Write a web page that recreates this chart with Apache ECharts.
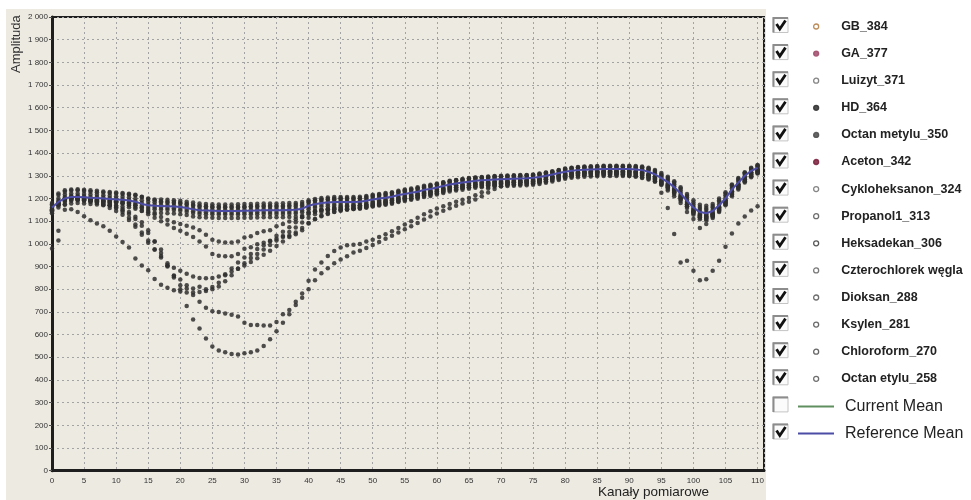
<!DOCTYPE html>
<html>
<head>
<meta charset="utf-8">
<script src="https://cdn.jsdelivr.net/npm/echarts@6/dist/echarts.min.js"></script>
<style>
html,body{margin:0;padding:0;background:#ffffff;}
#chart{width:971px;height:500px;}
</style>
</head>
<body>
<div id="chart"></div>
<script>
// Measurement channels (x axis)
const channels = [0,1,2,3,4,5,6,7,8,9,10,11,12,13,14,15,16,17,18,19,20,21,22,23,24,25,26,27,28,29,30,31,32,33,34,35,36,37,38,39,40,41,42,43,44,45,46,47,48,49,50,51,52,53,54,55,56,57,58,59,60,61,62,63,64,65,66,67,68,69,70,71,72,73,74,75,76,77,78,79,80,81,82,83,84,85,86,87,88,89,90,91,92,93,94,95,96,97,98,99,100,101,102,103,104,105,106,107,108,109,110];

// Reference mean amplitude per channel
const refMean = [
1160,1185,1200,1207,1207,1205,1203,1202,1200,1198,
1196,1194,1191,1186,1176,1170,1168,1167,1166,1165,
1162,1158,1152,1148,1147,1146,1145,1145,1145,1145,
1146,1146,1147,1148,1148,1148,1148,1149,1150,1155,
1168,1175,1180,1182,1184,1185,1185,1185,1186,1190,
1196,1200,1203,1208,1215,1220,1225,1230,1238,1242,
1248,1255,1262,1266,1270,1274,1278,1280,1282,1284,
1285,1286,1287,1288,1289,1291,1295,1300,1306,1312,
1318,1322,1325,1327,1328,1329,1330,1330,1330,1330,
1330,1328,1325,1318,1306,1290,1272,1250,1222,1190,
1160,1140,1135,1145,1170,1200,1240,1270,1300,1322,1335];

// Amplitudes of the measured substances
const gb384 = [
1175,1215,1230,1235,1236,1233,1230,1228,1226,1224,
1222,1220,1218,1214,1208,1200,1196,1195,1194,1192,
1190,1186,1182,1178,1176,1175,1174,1174,1174,1175,
1176,1176,1177,1178,1178,1178,1179,1180,1180,1184,
1192,1198,1202,1204,1206,1206,1206,1207,1208,1211,
1216,1220,1224,1228,1234,1240,1244,1250,1256,1260,
1266,1272,1278,1282,1286,1290,1293,1295,1297,1299,
1300,1301,1302,1303,1304,1306,1310,1315,1320,1326,
1332,1336,1339,1341,1342,1343,1344,1344,1344,1344,
1344,1343,1341,1336,1326,1312,1296,1276,1250,1220,
1192,1172,1168,1176,1200,1228,1262,1290,1316,1336,1348];

const ga377 = [
1168,1200,1218,1222,1222,1220,1218,1216,1214,1212,
1210,1208,1205,1200,1192,1186,1183,1182,1181,1180,
1178,1174,1168,1164,1162,1161,1160,1160,1160,1160,
1161,1162,1163,1163,1163,1163,1163,1164,1165,1170,
1182,1189,1193,1195,1197,1198,1198,1198,1199,1202,
1208,1212,1215,1220,1227,1232,1237,1242,1249,1254,
1260,1267,1273,1278,1282,1286,1289,1291,1293,1295,
1296,1297,1298,1299,1300,1302,1306,1311,1316,1322,
1328,1332,1335,1337,1338,1339,1340,1340,1340,1340,
1340,1338,1335,1329,1317,1302,1284,1263,1236,1204,
1174,1154,1150,1160,1186,1214,1252,1282,1310,1330,1343];

const luizyt371 = [
1160,1190,1206,1212,1212,1210,1207,1206,1204,1202,
1200,1197,1194,1189,1180,1174,1172,1171,1170,1169,
1166,1162,1156,1152,1151,1150,1149,1149,1149,1149,
1150,1150,1151,1152,1152,1152,1152,1153,1154,1159,
1171,1179,1184,1186,1188,1189,1189,1189,1190,1194,
1200,1204,1207,1212,1219,1224,1229,1234,1242,1246,
1252,1259,1266,1270,1274,1278,1282,1284,1286,1288,
1289,1290,1291,1292,1293,1295,1299,1304,1310,1316,
1322,1326,1329,1331,1332,1333,1334,1334,1334,1334,
1334,1332,1329,1322,1310,1294,1276,1254,1226,1194,
1164,1144,1139,1149,1174,1204,1244,1274,1304,1326,1339];

const hd364 = [
1150,1178,1194,1200,1200,1198,1195,1194,1192,1190,
1188,1186,1183,1178,1168,1162,1160,1159,1158,1157,
1154,1150,1144,1140,1139,1138,1137,1137,1137,1137,
1138,1138,1139,1140,1140,1140,1140,1141,1142,1147,
1160,1167,1172,1174,1176,1177,1177,1177,1178,1182,
1188,1192,1195,1200,1207,1212,1217,1222,1230,1234,
1240,1247,1254,1258,1262,1266,1270,1272,1274,1276,
1277,1278,1279,1280,1281,1283,1287,1292,1298,1304,
1310,1314,1317,1319,1320,1321,1322,1322,1322,1322,
1322,1318,1312,1302,1286,1262,1235,1210,1180,1140,
1110,1070,1087,1128,1160,1192,1230,1262,1292,1316,1330];

const octanMetylu350 = [
1150,1175,1195,1200,1200,1198,1196,1195,1193,1191,
1188,1184,1178,1170,1158,1145,1130,1118,1105,1095,
1088,1080,1072,1060,1040,1018,1010,1006,1006,1010,
1028,1034,1048,1056,1060,1078,1088,1098,1108,1118,
1130,1140,1148,1152,1158,1162,1165,1168,1170,1174,
1180,1186,1190,1196,1203,1208,1214,1220,1228,1232,
1238,1245,1252,1256,1260,1264,1268,1270,1272,1274,
1275,1276,1277,1278,1279,1281,1285,1290,1296,1302,
1308,1312,1315,1317,1318,1319,1320,1320,1320,1320,
1320,1318,1315,1308,1296,1280,1262,1240,1212,1180,
1150,1130,1125,1135,1160,1190,1230,1260,1290,1312,1325];

const aceton342 = [
1145,1170,1190,1196,1197,1195,1192,1190,1188,1186,
1183,1178,1170,1160,1146,1130,1115,1100,1085,1070,
1058,1045,1030,1010,988,955,948,945,945,955,
978,985,998,1005,1012,1022,1030,1036,1042,1060,
1092,1110,1125,1135,1142,1148,1152,1156,1160,1165,
1172,1178,1183,1189,1196,1202,1208,1214,1222,1227,
1233,1240,1247,1251,1255,1259,1263,1265,1267,1269,
1270,1271,1272,1273,1274,1276,1280,1285,1291,1297,
1303,1307,1310,1312,1313,1314,1315,1315,1315,1315,
1315,1313,1310,1303,1291,1275,1257,1235,1207,1175,
1145,1125,1120,1130,1155,1185,1225,1255,1285,1308,1322];

const cykloheksanon324 = [
1142,1170,1186,1194,1195,1192,1189,1187,1185,1183,
1181,1179,1176,1170,1160,1154,1152,1151,1150,1149,
1146,1142,1136,1132,1131,1130,1129,1129,1129,1129,
1130,1130,1131,1132,1132,1132,1132,1133,1134,1139,
1152,1159,1164,1166,1168,1169,1169,1169,1170,1174,
1180,1184,1187,1192,1199,1204,1209,1214,1222,1226,
1232,1239,1246,1250,1254,1258,1262,1264,1266,1268,
1269,1270,1271,1272,1273,1275,1279,1284,1290,1296,
1302,1306,1309,1311,1312,1313,1314,1314,1314,1314,
1314,1312,1309,1302,1290,1274,1256,1234,1206,1174,
1144,1124,1119,1129,1154,1184,1224,1254,1284,1306,1320];

const propanol313 = [
1150,1180,1198,1204,1204,1200,1196,1192,1186,1178,
1168,1155,1140,1120,1095,1060,1010,960,905,858,
818,803,775,745,718,703,700,693,688,680,
652,642,642,640,640,656,690,708,745,781,
837,887,918,946,968,984,994,996,999,1010,
1018,1030,1042,1056,1070,1085,1100,1115,1130,1144,
1156,1166,1176,1186,1194,1202,1214,1228,1244,1258,
1266,1272,1275,1277,1279,1281,1285,1290,1296,1302,
1308,1312,1315,1317,1318,1319,1320,1320,1320,1320,
1320,1318,1314,1307,1296,1282,1265,1244,1216,1186,
1156,1136,1130,1140,1164,1194,1232,1262,1292,1314,1328];

const heksadekan306 = [
980,1058,1150,1152,1140,1122,1104,1090,1078,1058,
1032,1008,984,935,905,884,845,820,806,796,
790,786,786,788,792,800,812,835,862,890,
915,938,955,975,995,1015,1035,1052,1072,1094,
1115,1130,1140,1146,1150,1153,1155,1157,1158,1162,
1168,1172,1176,1181,1188,1194,1199,1204,1212,1217,
1223,1230,1237,1241,1245,1249,1253,1255,1257,1259,
1260,1261,1262,1263,1264,1266,1270,1275,1281,1287,
1293,1297,1300,1302,1303,1304,1305,1305,1305,1305,
1305,1303,1300,1293,1281,1266,1248,1226,1198,1166,
1136,1116,1111,1121,1146,1176,1216,1246,1276,1299,1314];

const czterochlorek = [
1145,1015,1175,1190,1192,1190,1186,1182,1176,1170,
1160,1148,1132,1110,1080,1048,1010,975,905,852,
843,818,803,811,800,810,829,862,891,918,
940,955,977,994,1014,1036,1053,1073,1095,1117,
1139,1146,1150,1155,1158,1160,1162,1164,1166,1170,
1176,1180,1184,1189,1196,1201,1206,1211,1219,1223,
1229,1236,1243,1247,1251,1255,1259,1261,1263,1265,
1266,1267,1268,1269,1270,1272,1276,1281,1287,1293,
1299,1303,1306,1308,1309,1310,1311,1311,1311,1311,
1311,1309,1306,1299,1287,1271,1253,1231,1203,1171,
1141,1121,1116,1126,1151,1181,1221,1251,1281,1303,1317];

const dioksan288 = [
1148,1178,1196,1200,1198,1194,1188,1180,1170,1158,
1145,1128,1105,1075,1040,1005,975,946,915,895,
881,868,856,850,848,850,856,866,878,890,
905,920,936,952,970,990,1010,1030,1050,1070,
1090,1108,1122,1132,1140,1146,1150,1154,1158,1162,
1168,1173,1177,1182,1189,1195,1200,1205,1213,1218,
1224,1231,1238,1242,1246,1250,1254,1256,1258,1260,
1261,1262,1263,1264,1265,1267,1271,1276,1282,1288,
1294,1298,1301,1303,1304,1305,1306,1306,1306,1306,
1306,1304,1301,1294,1282,1266,1248,1226,1198,1166,
1136,1116,1111,1121,1146,1176,1216,1246,1276,1298,1312];

const ksylen281 = [
1155,1182,1200,1206,1205,1200,1195,1188,1180,1170,
1158,1140,1115,1085,1050,1015,975,940,900,860,
800,726,667,627,583,548,530,522,514,512,
518,522,530,550,580,615,652,690,730,762,
800,840,870,892,914,931,945,962,970,982,
995,1008,1022,1036,1050,1064,1078,1092,1107,1121,
1134,1146,1157,1168,1178,1186,1195,1210,1226,1242,
1254,1262,1268,1272,1275,1278,1282,1286,1291,1297,
1302,1306,1309,1311,1312,1313,1314,1312,1310,1305,
1300,1297,1290,1284,1275,1225,1158,1043,918,925,
881,839,844,881,925,987,1046,1090,1121,1147,1166];

const chloroform270 = [
1180,1222,1236,1240,1241,1238,1236,1234,1231,1229,
1226,1224,1221,1216,1206,1198,1192,1188,1186,1184,
1181,1177,1172,1168,1166,1165,1164,1164,1164,1164,
1165,1166,1167,1168,1168,1168,1168,1170,1172,1176,
1186,1192,1196,1198,1200,1201,1201,1201,1202,1206,
1212,1216,1220,1224,1230,1236,1240,1245,1252,1257,
1263,1270,1276,1280,1284,1288,1291,1293,1295,1297,
1298,1299,1300,1301,1302,1304,1308,1313,1318,1324,
1330,1334,1337,1339,1340,1341,1342,1342,1342,1342,
1342,1340,1338,1332,1321,1306,1290,1270,1244,1212,
1182,1162,1158,1167,1192,1222,1258,1286,1312,1332,1345];

const octanEtylu258 = [
1135,1160,1172,1178,1180,1178,1176,1174,1172,1170,
1168,1165,1161,1155,1145,1139,1137,1136,1135,1134,
1131,1127,1121,1117,1116,1115,1114,1114,1114,1114,
1115,1115,1116,1117,1117,1117,1117,1118,1119,1124,
1137,1144,1149,1151,1153,1154,1154,1154,1155,1159,
1165,1169,1172,1177,1184,1189,1194,1199,1207,1211,
1217,1224,1231,1235,1239,1243,1247,1249,1251,1253,
1254,1255,1256,1257,1258,1260,1264,1269,1275,1281,
1287,1291,1294,1296,1297,1298,1299,1299,1299,1299,
1299,1297,1294,1287,1275,1260,1242,1220,1190,1158,
1128,1108,1104,1114,1140,1170,1210,1240,1270,1294,1310];

const seriesNames = ['GB_384','GA_377','Luizyt_371','HD_364','Octan metylu_350','Aceton_342',
  'Cykloheksanon_324','Propanol1_313','Heksadekan_306','Czterochlorek węgla','Dioksan_288',
  'Ksylen_281','Chloroform_270','Octan etylu_258'];
const seriesValues = [gb384, ga377, luizyt371, hd364, octanMetylu350, aceton342,
  cykloheksanon324, propanol313, heksadekan306, czterochlorek, dioksan288,
  ksylen281, chloroform270, octanEtylu258];
const meanNames = ['Current Mean','Reference Mean'];
const checked = [true,true,true,true,true,true,true,true,true,true,true,true,true,true,false,true];

// legend marker look for every substance: [fill, ring]
const markerLook = [
  ['#ffffff','#b0783c'], ['#a04a6a','#a04a6a'], ['#ffffff','#6e6e6e'], ['#2e2e2e','#2e2e2e'],
  ['#4a4a4a','#4a4a4a'], ['#7a1f3c','#7a1f3c'], ['#ffffff','#707070'], ['#ffffff','#555555'],
  ['#ffffff','#3a3a3a'], ['#ffffff','#606060'], ['#ffffff','#555555'], ['#ffffff','#505050'],
  ['#ffffff','#4a4a4a'], ['#ffffff','#555555']
];

const pairs = arr => channels.map((c, i) => [c, arr[i]]);
const spaced = v => String(v).replace(/\B(?=(\d{3})+(?!\d))/g, ' ');

const series = seriesNames.map((name, k) => ({
  name: name,
  type: 'scatter',
  data: pairs(seriesValues[k]),
  symbol: 'circle',
  symbolSize: 4.5,
  itemStyle: { color: '#2f2f2f', opacity: 0.85 },
  z: 2,
  silent: true
}));
series.push({
  name: 'Current Mean', type: 'line', data: [], symbol: 'none',
  lineStyle: { color: '#5f8f5f', width: 1.5 }, itemStyle: { color: '#5f8f5f' }
});
series.push({
  name: 'Reference Mean', type: 'line', data: pairs(refMean), symbol: 'none',
  lineStyle: { color: '#4c4ca6', width: 2 }, itemStyle: { color: '#4c4ca6' },
  z: 3, silent: true
});

// sunken check boxes in front of legend rows
const rowTop = 25.5, rowStep = 27.1;
const boxes = [];
checked.forEach((on, i) => {
  const cy = rowTop + i * rowStep;
  boxes.push({ type: 'rect', shape: { x: 773, y: cy - 8, width: 15, height: 15 },
    style: { fill: '#fbfbfb', stroke: '#c4c4c4', lineWidth: 1 }, z: 10 });
  boxes.push({ type: 'polyline', shape: { points: [[773.5, cy + 7], [773.5, cy - 7.5], [788, cy - 7.5]] },
    style: { stroke: '#8c8c8c', lineWidth: 2, fill: null }, z: 10 });
  if (on) {
    boxes.push({ type: 'polyline', shape: { points: [[776.5, cy - 1.5], [779.8, cy + 3.5], [785.5, cy - 5]] },
      style: { stroke: '#111', lineWidth: 2.8, fill: null }, z: 11 });
  }
});

const chart = echarts.init(document.getElementById('chart'), null, { renderer: 'canvas' });
chart.setOption({
  backgroundColor: '#ffffff',
  animation: false,
  grid: {
    left: 52, top: 17, right: 207, bottom: 29.3,
    show: true, backgroundColor: '#edeae2', borderColor: '#1e1e1e', borderWidth: 2
  },
  xAxis: {
    type: 'value', min: 0, max: 111, interval: 5,
    axisLine: { show: true, onZero: false, lineStyle: { color: '#1e1e1e', width: 3 } },
    axisTick: { show: false },
    axisLabel: { showMaxLabel: false, fontFamily: 'Liberation Sans', fontSize: 8, color: '#333', margin: 6 },
    splitLine: { show: true, lineStyle: { color: '#a3a3a3', type: [2, 3], width: 1 } }
  },
  yAxis: {
    type: 'value', min: 0, max: 2000, interval: 100,
    axisLine: { show: true, lineStyle: { color: '#1e1e1e', width: 3 } },
    axisTick: { show: true, length: 3, lineStyle: { color: '#555' } },
    axisLabel: { formatter: spaced, fontFamily: 'Liberation Sans', fontSize: 8, color: '#333', margin: 4 },
    splitLine: { show: true, lineStyle: { color: '#a3a3a3', type: [2, 3], width: 1 } }
  },
  legend: [
    {
      data: seriesNames.map((n, i) => ({
        name: n, icon: 'circle',
        itemStyle: { color: markerLook[i][0], borderColor: markerLook[i][1], borderWidth: 1.3 }
      })),
      orient: 'vertical', left: 813, top: rowTop - 7, padding: 0,
      itemWidth: 40, itemHeight: 5, itemGap: rowStep - 16,
      selectedMode: false,
      textStyle: { fontFamily: 'Liberation Sans', fontSize: 12.5, fontWeight: 'bold', color: '#222', lineHeight: 16 }
    },
    {
      data: meanNames.map(n => ({ name: n, itemStyle: { color: 'rgba(0,0,0,0)', borderWidth: 0 } })),
      orient: 'vertical', left: 797, top: rowTop + 14 * rowStep - 7.5, padding: 0,
      itemWidth: 36, itemHeight: 10, itemGap: rowStep - 18,
      selectedMode: false,
      textStyle: { fontFamily: 'Liberation Sans', fontSize: 16, color: '#222', lineHeight: 18, padding: [0, 0, 0, 6] }
    }
  ],
  graphic: [
    { type: 'rect', shape: { x: 6, y: 9, width: 760, height: 491 }, style: { fill: '#edeae2' }, z: -10, silent: true },
    { type: 'text', x: 16, y: 73, rotation: Math.PI / 2,
      style: { text: 'Amplituda', fontFamily: 'Liberation Sans', fontSize: 13, fill: '#333', textAlign: 'left', textVerticalAlign: 'middle' } },
    { type: 'text', x: 598, y: 492,
      style: { text: 'Kanały pomiarowe', fontFamily: 'Liberation Sans', fontSize: 13.5, fill: '#222', textAlign: 'left', textVerticalAlign: 'middle' } }
  ].concat(boxes),
  series: series
});
</script>
</body>
</html>
